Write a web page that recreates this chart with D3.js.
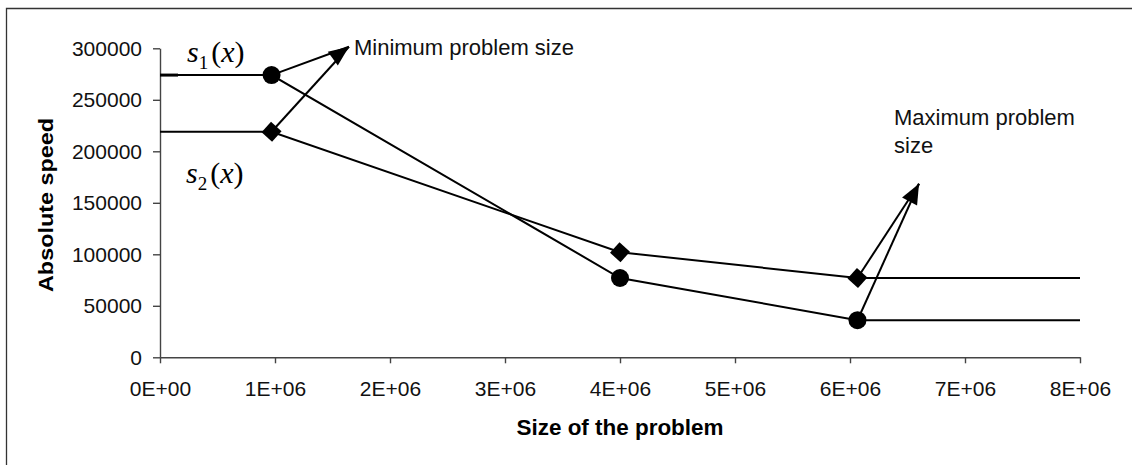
<!DOCTYPE html>
<html>
<head>
<meta charset="utf-8">
<script src="https://cdn.jsdelivr.net/npm/d3@7"></script>
<style>
  body { margin: 0; background: #fff; }
  svg { display: block; font-family: "Liberation Sans", Arial, sans-serif; }
</style>
</head>
<body>
<svg id="chart" width="1132" height="465"></svg>
<script>
// problem sizes (x) and the two speed functions
const sizes = [0, 0.97e6, 4.0e6, 6.065e6, 8e6];
const s1 = [274000, 274000, 77000, 36000, 36000];
const s2 = [219000, 219000, 102000, 77000, 77000];
const markedIdx = [1, 2, 3];

const yTicks = [0, 50000, 100000, 150000, 200000, 250000, 300000];
const xTicks = [0, 1e6, 2e6, 3e6, 4e6, 5e6, 6e6, 7e6, 8e6];
const xTickLabels = ["0E+00", "1E+06", "2E+06", "3E+06", "4E+06", "5E+06", "6E+06", "7E+06", "8E+06"];

// arrow tips of the two annotations (data coords)
const minTip = [1.643e6, 301500];
const maxTip = [6.6e6, 168500];

const svg = d3.select("#chart");
const x = d3.scaleLinear().domain([0, 8e6]).range([160, 1080]);
const y = d3.scaleLinear().domain([0, 300000]).range([357.3, 48.3]);

// frame (only left and top edges show)
svg.append("path")
  .attr("d", "M6.5,465V8.5H1132")
  .attr("fill", "none").attr("stroke", "#333").attr("stroke-width", 1.3);

// axes
const yAxis = svg.append("g")
  .attr("transform", `translate(${x(0)},0)`)
  .call(d3.axisLeft(y).tickValues(yTicks).tickFormat(d3.format("d")).tickSize(7).tickSizeOuter(0).tickPadding(11));
const xAxis = svg.append("g")
  .attr("transform", `translate(0,${y(0)})`)
  .call(d3.axisBottom(x).tickValues(xTicks).tickFormat((d, i) => xTickLabels[i]).tickSize(6).tickSizeOuter(0).tickPadding(18));

[yAxis, xAxis].forEach(a => {
  a.select(".domain").attr("stroke", "#444").attr("stroke-width", 1.4);
  a.selectAll(".tick line").attr("stroke", "#444").attr("stroke-width", 1.4);
  a.selectAll("text").attr("font-size", 21).attr("fill", "#111")
    .attr("font-family", "'Liberation Sans', Arial, sans-serif");
});

// axis titles
svg.append("text")
  .attr("x", 620).attr("y", 435)
  .attr("text-anchor", "middle")
  .attr("font-weight", "bold").attr("font-size", 22)
  .attr("textLength", 207).attr("lengthAdjust", "spacingAndGlyphs")
  .text("Size of the problem");

svg.append("text")
  .attr("transform", "translate(53,205) rotate(-90)")
  .attr("text-anchor", "middle")
  .attr("font-weight", "bold").attr("font-size", 21)
  .attr("textLength", 174).attr("lengthAdjust", "spacingAndGlyphs")
  .text("Absolute speed");

// series lines
const line = d3.line().x((d, i) => x(sizes[i])).y(d => y(d));
[s1, s2].forEach(s => {
  svg.append("path")
    .datum(s)
    .attr("d", line)
    .attr("fill", "none")
    .attr("stroke", "#000")
    .attr("stroke-width", 2);
});
// short thicker stub at the start of s1
svg.append("line")
  .attr("x1", x(0)).attr("x2", x(0) + 18)
  .attr("y1", y(s1[0])).attr("y2", y(s1[0]))
  .attr("stroke", "#000").attr("stroke-width", 3);

// annotation arrows (from markers to tip)
function arrow(fromIdx, tip) {
  const g = svg.append("g");
  const tx = x(tip[0]), ty = y(tip[1]);
  let ax = 0, ay = 0;
  fromIdx.forEach(([s, i]) => {
    const fx = x(sizes[i]), fy = y(s[i]);
    g.append("line")
      .attr("x1", fx).attr("y1", fy)
      .attr("x2", tx).attr("y2", ty)
      .attr("stroke", "#000").attr("stroke-width", 2);
    ax += tx - fx; ay += ty - fy;
  });
  const ang = Math.atan2(ay, ax) * 180 / Math.PI;
  g.append("path")
    .attr("d", "M0,0L-20,-8.5L-20,8.5Z")
    .attr("transform", `translate(${tx},${ty}) rotate(${ang})`)
    .attr("fill", "#000");
}
arrow([[s1, 1], [s2, 1]], minTip);
arrow([[s2, 3], [s1, 3]], maxTip);

// markers
svg.append("g").selectAll("circle")
  .data(markedIdx)
  .join("circle")
  .attr("cx", i => x(sizes[i]))
  .attr("cy", i => y(s1[i]))
  .attr("r", 9)
  .attr("fill", "#000");

svg.append("g").selectAll("path")
  .data(markedIdx)
  .join("path")
  .attr("d", d3.symbol(d3.symbolSquare, 200))
  .attr("transform", i => `translate(${x(sizes[i])},${y(s2[i])}) rotate(42)`)
  .attr("fill", "#000");

// annotation texts
svg.append("text")
  .attr("x", x(minTip[0]) + 5).attr("y", 55)
  .attr("font-size", 22).attr("fill", "#111")
  .text("Minimum problem size");

const maxLbl = svg.append("text")
  .attr("x", 894).attr("y", 125)
  .attr("font-size", 22).attr("fill", "#111");
maxLbl.append("tspan").attr("x", 894).text("Maximum problem");
maxLbl.append("tspan").attr("x", 894).attr("dy", 28).text("size");

// function labels s1(x), s2(x)
function fnLabel(px, py, sub) {
  const t = svg.append("text")
    .attr("x", px).attr("y", py)
    .attr("font-family", "'Liberation Serif', 'Times New Roman', serif")
    .attr("font-size", 30).attr("fill", "#000");
  t.append("tspan").attr("font-style", "italic").text("s");
  t.append("tspan").attr("font-size", 19).attr("dy", 7).text(sub);
  t.append("tspan").attr("dy", -7).attr("dx", 3).text("(");
  t.append("tspan").attr("font-style", "italic").text("x");
  t.append("tspan").text(")");
}
fnLabel(187, 62, "1");
fnLabel(186, 183, "2");
</script>
</body>
</html>
